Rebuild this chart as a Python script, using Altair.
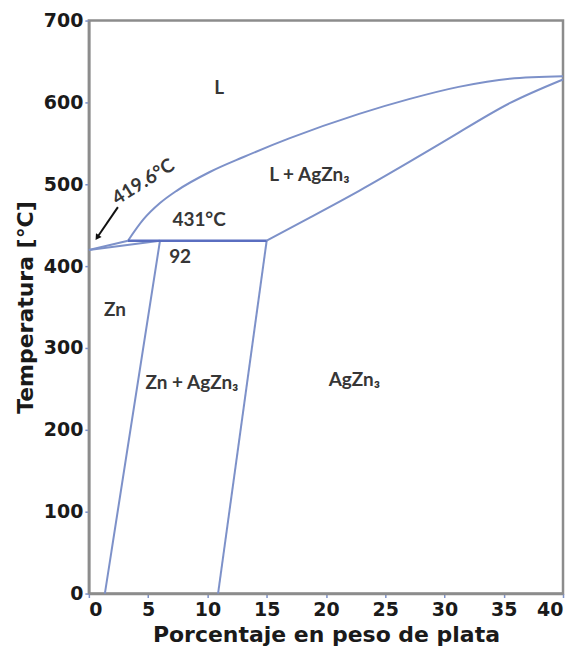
import altair as alt
import pandas as pd

# Liquidus curve (L / L + AgZn3 boundary), from the eutectic up to 40 %
liq_x = [3.3, 4.6, 6.0, 7.4, 10.2, 13.0, 16.9, 22.8, 27.0, 31.2, 35.5, 40]
liq_y = [431, 457, 477, 492, 515, 533, 556, 586, 604, 619, 629, 632]

# Solidus of AgZn3 (L + AgZn3 / AgZn3 boundary)
sol_x = [15, 18.6, 22.8, 27.0, 31.2, 35.5, 40]
sol_y = [431, 459, 492, 527, 563, 599, 628]

# Straight boundaries
liq0_x = [0, 3.3]
liq0_y = [419.6, 431]
zn_sol_x = [0, 6.0]
zn_sol_y = [419.6, 431]
zn_solvus_x = [6.0, 1.35]
zn_solvus_y = [431, 0]
ag_solvus_x = [15, 10.9]
ag_solvus_y = [431, 0]
eut_x = [3.3, 15]
eut_y = [431, 431]

# Arrow pointing to 419.6 °C
arrow_x = [2.45, 0.7]
arrow_y = [472, 435]

# Region / annotation labels
lab_text = ["L", "L + AgZn\u2083", "431\u00b0C", "92", "Zn", "Zn + AgZn\u2083", "AgZn\u2083"]
lab_x = [11.0, 18.6, 9.3, 7.7, 2.2, 8.7, 22.4]
lab_y = [618, 511, 456, 411, 346, 257, 261]

x_ticks = [0, 5, 10, 15, 20, 25, 30, 35, 40]
y_ticks = [0, 100, 200, 300, 400, 500, 600, 700]

LINE = "#7d91c9"
xs = alt.Scale(domain=[0, 40], nice=False, zero=False)
ys = alt.Scale(domain=[0, 700], nice=False, zero=False)

def seg(name, xv, yv):
    return pd.DataFrame({"x": xv, "y": yv, "seg": name, "o": list(range(len(xv)))})

liq = seg("liq", liq_x, liq_y)
sol = seg("sol", sol_x, sol_y)
straight = pd.concat([
    seg("liq0", liq0_x, liq0_y),
    seg("znsol", zn_sol_x, zn_sol_y),
    seg("znsolv", zn_solvus_x, zn_solvus_y),
    seg("agsolv", ag_solvus_x, ag_solvus_y),
])
eut = seg("eut", eut_x, eut_y)
arrow = seg("arrow", arrow_x, arrow_y)
labels = pd.DataFrame({"t": lab_text, "x": lab_x, "y": lab_y})
rot = pd.DataFrame({"t": ["419.6\u00b0C"], "x": [4.6], "y": [503]})

base_x = alt.X("x:Q", scale=xs,
               axis=alt.Axis(values=x_ticks, title="Porcentaje en peso de plata", grid=False))
base_y = alt.Y("y:Q", scale=ys,
               axis=alt.Axis(values=y_ticks, title="Temperatura [\u00b0C]", grid=False))

liq_layer = alt.Chart(liq).mark_line(color=LINE, strokeWidth=2, interpolate="monotone").encode(
    x=base_x, y=base_y, order="o:Q")
sol_layer = alt.Chart(sol).mark_line(color=LINE, strokeWidth=2, interpolate="natural").encode(
    x="x:Q", y="y:Q", order="o:Q")
straight_layer = alt.Chart(straight).mark_line(color=LINE, strokeWidth=2).encode(
    x="x:Q", y="y:Q", detail="seg:N", order="o:Q")
eut_layer = alt.Chart(eut).mark_line(color="#5a6ec0", strokeWidth=2.5).encode(
    x="x:Q", y="y:Q", order="o:Q")
arrow_line = alt.Chart(arrow).mark_line(color="#111111", strokeWidth=2).encode(
    x="x:Q", y="y:Q", order="o:Q")
arrow_head = alt.Chart(arrow.iloc[[1]]).mark_point(
    shape="triangle-up", filled=True, color="#111111", size=45, angle=214, opacity=1).encode(
    x="x:Q", y="y:Q")
text_layer = alt.Chart(labels).mark_text(
    font="Lato", fontWeight="bold", fontSize=19, color="#363636").encode(
    x="x:Q", y="y:Q", text="t:N")
rot_layer = alt.Chart(rot).mark_text(
    font="Lato", fontWeight="bold", fontSize=19, color="#363636", angle=328).encode(
    x="x:Q", y="y:Q", text="t:N")

chart = alt.layer(
    liq_layer, sol_layer, straight_layer, eut_layer, arrow_line, arrow_head, text_layer, rot_layer
).properties(
    width=475, height=574,
    autosize=alt.AutoSizeParams(type="none"),
    padding={"left": 81, "top": 12, "right": 6, "bottom": 66},
).configure_view(
    stroke="#8c8c8c", strokeWidth=2.5
).configure_axis(
    labelFont="DejaVu Sans", labelFontWeight="bold", labelFontSize=19, labelColor="#1a1a1a",
    titleFont="DejaVu Sans", titleFontWeight="bold", titleFontSize=22, titleColor="#1a1a1a",
    domainColor="#8c8c8c", domainWidth=2.5, tickColor="#7d91c9", tickSize=4, tickWidth=1.5,
    labelPadding=2,
).configure_axisY(titlePadding=6).configure_axisX(titlePadding=5, labelPadding=3)

chart.save("out.html", embed_options={"renderer": "svg", "actions": False})
